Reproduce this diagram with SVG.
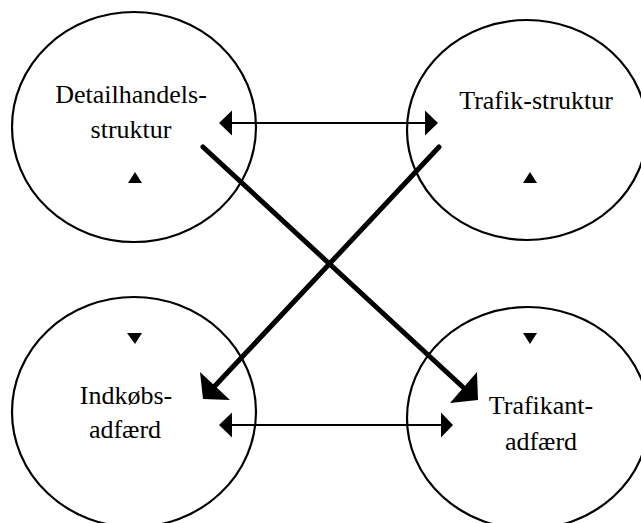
<svg xmlns="http://www.w3.org/2000/svg" width="641" height="523" viewBox="0 0 641 523">
<style>
.node ellipse{fill:none;stroke:#000;stroke-width:2.2}
.node text{font-family:"Liberation Serif","Times New Roman",serif;font-size:26px;fill:#000;text-anchor:middle}
.tri{fill:#000}
.thin{stroke:#000;stroke-width:2.2;fill:none}
.thick{stroke:#000;stroke-width:5;fill:none;stroke-linecap:round}
.head{fill:#000}
</style>
<rect width="641" height="523" fill="#fff"/>
<g id="node-detailhandel" class="node">
<ellipse cx="134" cy="127" rx="122" ry="115"/>
<text x="131" y="103">Detailhandels-</text>
<text x="131" y="138">struktur</text>
<polygon class="tri" points="135,172 142,183 128,183"/>
</g>
<g id="node-trafikstruktur" class="node">
<ellipse cx="527" cy="130" rx="120" ry="110"/>
<text x="536" y="109">Trafik-struktur</text>
<polygon class="tri" points="530,172 537,183 523,183"/>
</g>
<g id="node-indkoeb" class="node">
<ellipse cx="134" cy="412" rx="122" ry="115"/>
<text x="126" y="404">Indkøbs-</text>
<text x="125" y="438">adfærd</text>
<polygon class="tri" points="127,333 142,333 135,344"/>
</g>
<g id="node-trafikant" class="node">
<ellipse cx="528" cy="418" rx="121" ry="111"/>
<text x="541" y="414">Trafikant-</text>
<text x="541" y="450">adfærd</text>
<polygon class="tri" points="523,333 537,333 530,344"/>
</g>
<g id="connectors">
<line class="thin" x1="230" y1="123" x2="428" y2="123"/>
<polygon class="head" points="219,123 232,110.5 232,135.5"/>
<polygon class="head" points="438,123 425,110.5 425,135.5"/>
<line class="thin" x1="230" y1="425" x2="444" y2="425"/>
<polygon class="head" points="219,425 232,412.5 232,437.5"/>
<polygon class="head" points="453,425 441,412.5 441,437.5"/>
<line class="thick" x1="203" y1="147" x2="466" y2="390"/>
<polygon class="head" points="478,400 477,372 450,403"/>
<line class="thick" x1="439" y1="147" x2="213" y2="388"/>
<polygon class="head" points="203,399 200,372 230,400"/>
</g>
</svg>
